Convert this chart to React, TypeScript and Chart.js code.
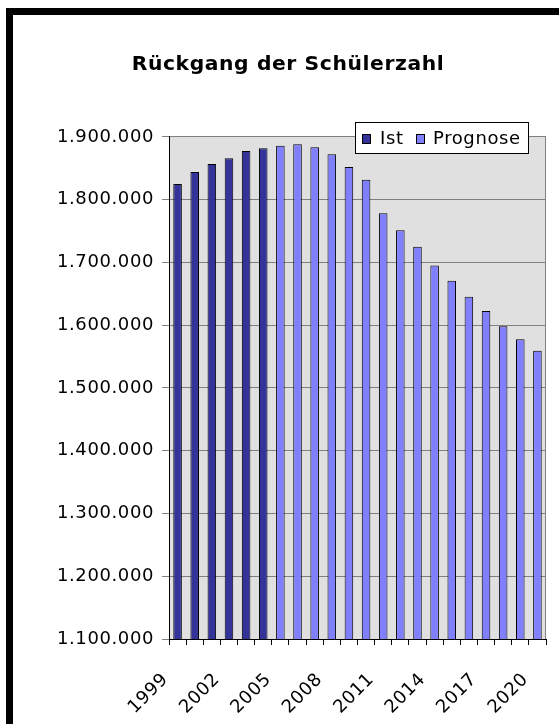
import React, { useEffect, useRef } from 'react';
import { Chart, registerables } from 'chart.js';

Chart.register(...registerables);

const years = [
  '1999', '2000', '2001', '2002', '2003', '2004', '2005', '2006', '2007', '2008', '2009',
  '2010', '2011', '2012', '2013', '2014', '2015', '2016', '2017', '2018', '2019', '2020',
];
const istValues = [1825000, 1844000, 1857000, 1866000, 1877500, 1882000];
const prognoseValues = [
  1886000, 1888500, 1883500, 1872500, 1852000, 1832000, 1778500, 1751500,
  1725000, 1695000, 1670800, 1645400, 1622700, 1598400, 1577800, 1559200,
];
const yMin = 1100000;
const yMax = 1900000;
const yStep = 100000;
const titleText = 'Rückgang der Schülerzahl';
const seriesLabels = ['Ist', 'Prognose'];
const seriesColors = ['#333399', '#8080FF'];

const FONT = 'DejaVu Sans';
const SPACING = '0.6px';
const TICK_SIZE = 18;

function fmt(v: number): string {
  return String(Math.round(v)).replace(/\B(?=(\d{3})+(?!\d))/g, '.');
}

const plotBg = {
  id: 'plotBg',
  beforeDraw(chart: any) {
    const { ctx, chartArea: a } = chart;
    ctx.save();
    ctx.fillStyle = '#E0E0E0';
    ctx.fillRect(a.left, a.top, a.right - a.left, a.bottom - a.top);
    ctx.strokeStyle = '#808080';
    ctx.lineWidth = 1;
    ctx.beginPath();
    ctx.moveTo(Math.round(a.right) - 0.5, a.top);
    ctx.lineTo(Math.round(a.right) - 0.5, a.bottom);
    ctx.stroke();
    ctx.restore();
    ctx.letterSpacing = SPACING;
  },
  beforeLayout(chart: any) {
    chart.ctx.letterSpacing = SPACING;
  },
};

const boxLegend = {
  id: 'boxLegend',
  afterDraw(chart: any) {
    const { ctx, chartArea: a } = chart;
    const ds = chart.data.datasets;
    const right = Math.round(a.right) - 17;
    const left = right - 174;
    const top = Math.round(a.top) - 15;
    const h = 32;
    ctx.save();
    ctx.letterSpacing = SPACING;
    ctx.fillStyle = '#FFFFFF';
    ctx.fillRect(left, top, right - left, h);
    ctx.strokeStyle = '#000000';
    ctx.lineWidth = 1;
    ctx.strokeRect(left + 0.5, top + 0.5, right - left - 1, h - 1);
    ctx.font = `${TICK_SIZE}px "${FONT}"`;
    ctx.textBaseline = 'middle';
    ctx.textAlign = 'left';
    const cy = top + h / 2 + 1;
    const items = [
      { x: left + 7, tx: left + 25 },
      { x: left + 61, tx: left + 78 },
    ];
    ds.forEach((d: any, i: number) => {
      const it = items[i];
      ctx.fillStyle = d.backgroundColor;
      ctx.fillRect(it.x, cy - 5, 8, 9);
      ctx.strokeStyle = '#000000';
      ctx.strokeRect(it.x + 0.5, cy - 4.5, 8, 9);
      ctx.fillStyle = '#000000';
      ctx.fillText(d.label, it.tx, cy);
    });
    ctx.restore();
  },
};

export default function App() {
  const ref = useRef<HTMLCanvasElement | null>(null);

  useEffect(() => {
    if (!ref.current) return;
    const n = istValues.length;
    const istData = years.map((_, i) => (i < n ? istValues[i] : null));
    const progData = years.map((_, i) => (i >= n ? prognoseValues[i - n] : null));
    const common = {
      borderColor: '#000000',
      borderWidth: 1,
      borderSkipped: false,
      grouped: false,
      barPercentage: 0.5,
      categoryPercentage: 1,
    };
    const chart = new Chart(ref.current, {
      type: 'bar',
      data: {
        labels: years,
        datasets: [
          { label: seriesLabels[0], data: istData, backgroundColor: seriesColors[0], ...common },
          { label: seriesLabels[1], data: progData, backgroundColor: seriesColors[1], ...common },
        ],
      } as any,
      options: {
        animation: false,
        responsive: false,
        maintainAspectRatio: false,
        layout: { padding: { left: 30, right: 13, top: 0, bottom: 0 } },
        plugins: {
          legend: { display: false },
          tooltip: { enabled: false },
          title: {
            display: true,
            text: titleText,
            color: '#000000',
            font: { family: FONT, size: 20.3, weight: 'bold', lineHeight: 1.2 },
            padding: { top: 52.8, bottom: 59.8 },
          },
        },
        scales: {
          x: {
            grid: {
              display: true,
              drawOnChartArea: false,
              drawTicks: true,
              tickLength: 6,
              color: '#000000',
              offset: true,
            },
            border: { display: true, color: '#000000', width: 1 },
            ticks: {
              autoSkip: false,
              maxRotation: 45,
              minRotation: 45,
              padding: 24,
              labelOffset: -12,
              color: '#000000',
              font: { family: FONT, size: TICK_SIZE },
              callback: (_v: any, i: number) => (i % 3 === 0 ? years[i] : ''),
            },
            afterFit: (s: any) => {
              s.height = 85;
              s.paddingLeft = 0;
              s.paddingRight = 0;
            },
          },
          y: {
            min: yMin,
            max: yMax,
            grid: { color: '#808080', tickLength: 7, tickColor: '#808080' },
            border: { display: true, color: '#000000', width: 1 },
            ticks: {
              stepSize: yStep,
              padding: 8,
              color: '#000000',
              font: { family: FONT, size: TICK_SIZE },
              callback: (v: any) => fmt(Number(v)),
            },
            afterFit: (s: any) => {
              s.width = 139;
            },
          },
        },
      } as any,
      plugins: [plotBg, boxLegend],
    });
    return () => chart.destroy();
  }, []);

  return (
    <div style={{ position: 'fixed', left: 0, top: 0, width: 559, height: 724, overflow: 'hidden', background: '#FFFFFF' }}>
      <div
        style={{
          position: 'absolute',
          left: 6,
          top: 8,
          width: 700,
          height: 900,
          borderLeft: '7px solid #000000',
          borderTop: '7px solid #000000',
          boxSizing: 'border-box',
        }}
      />
      <canvas
        ref={ref}
        width={559}
        height={724}
        style={{ position: 'absolute', left: 0, top: 0, width: 559, height: 724 }}
      />
    </div>
  );
}
